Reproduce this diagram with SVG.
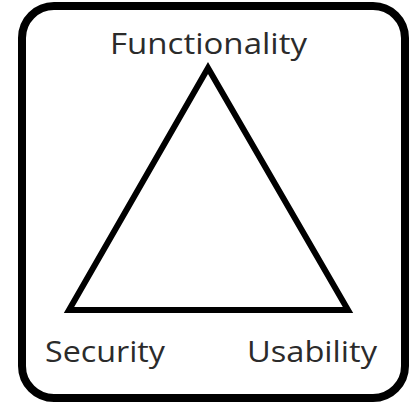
<svg xmlns="http://www.w3.org/2000/svg" width="413" height="405" viewBox="0 0 413 405">
<style>
.lbl{font-family:"Open Sans","Liberation Sans",sans-serif;font-size:29px;fill:#2b2b2b}
.edge{fill:none;stroke:#000;stroke-width:6;stroke-linejoin:miter}
</style>
<rect x="0" y="0" width="413" height="405" fill="#fff"/>
<g id="frame"><rect x="22" y="6" width="383" height="392" rx="32" ry="32" fill="none" stroke="#000" stroke-width="8"/></g>
<g id="connectors"><polygon class="edge" points="208,68 348,310 69,310"/></g>
<g id="functionality"><text class="lbl" x="110" y="54" textLength="197" lengthAdjust="spacingAndGlyphs">Functionality</text></g>
<g id="security"><text class="lbl" x="45" y="362" textLength="120" lengthAdjust="spacingAndGlyphs">Security</text></g>
<g id="usability"><text class="lbl" x="247" y="362" textLength="130" lengthAdjust="spacingAndGlyphs">Usability</text></g>
</svg>
